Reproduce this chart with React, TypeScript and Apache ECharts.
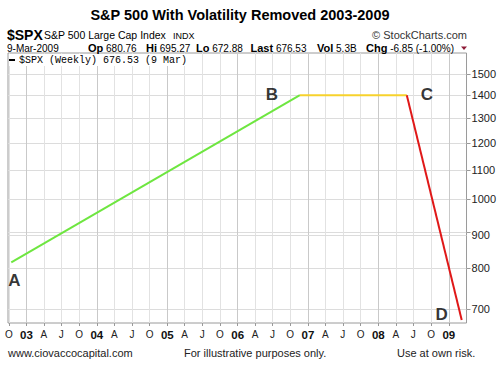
import React, { useEffect, useRef } from 'react';
import * as echarts from 'echarts';

const FONT = '"Liberation Sans", Arial, sans-serif';
const MONO = '"Liberation Mono", "Courier New", monospace';

// Trend segments (weekly S&P 500, volatility removed)
const greenDates = ['2002-10-14', '2006-11-20'];
const greenValues = [815, 1400];
const yellowDates = ['2006-11-20', '2008-05-28'];
const yellowValues = [1400, 1400];
const redDates = ['2008-05-28', '2009-03-09'];
const redValues = [1400, 676.53];

// Point annotations
const pointNames = ['A', 'B', 'C', 'D'];
const pointDates = ['2002-10-14', '2006-11-20', '2008-05-28', '2009-03-09'];
const pointValues = [815, 1400, 1400, 676.53];

// Axes
const yTickValues = [700, 800, 900, 1000, 1100, 1200, 1300, 1400, 1500];
// tick whose label is drawn by a mark line (the axis drops it)
const yTickViaMarkLine = [900];
const xTickDates = [
  '2002-10-01',
  '2003-01-01', '2003-04-01', '2003-07-01', '2003-10-01',
  '2004-01-01', '2004-04-01', '2004-07-01', '2004-10-01',
  '2005-01-01', '2005-04-01', '2005-07-01', '2005-10-01',
  '2006-01-01', '2006-04-01', '2006-07-01', '2006-10-01',
  '2007-01-01', '2007-04-01', '2007-07-01', '2007-10-01',
  '2008-01-01', '2008-04-01', '2008-07-01', '2008-10-01',
  '2009-01-01',
];
const xTickLabels = [
  'O',
  '03', 'A', 'J', 'O',
  '04', 'A', 'J', 'O',
  '05', 'A', 'J', 'O',
  '06', 'A', 'J', 'O',
  '07', 'A', 'J', 'O',
  '08', 'A', 'J', 'O',
  '09',
];

const X_MIN = '2002-09-27';
const X_MAX = '2009-04-03';
const Y_MIN = 670;
const Y_MAX = 1605;

const ts = (d: string) => new Date(d + 'T00:00:00Z').getTime();
const lg = (v: number) => Math.log10(v);

export default function App() {
  const ref = useRef<HTMLDivElement>(null);

  useEffect(() => {
    if (!ref.current) return;
    const chart = echarts.init(ref.current, undefined, { renderer: 'svg' });
    const xTicks = xTickDates.map(ts);
    const yTicks = yTickValues.map((v) => Number(lg(v).toFixed(6)));
    const yLabelTicks = yTickValues
      .filter((v) => !yTickViaMarkLine.includes(v))
      .map((v) => Number(lg(v).toFixed(6)));

    const seg = (dates: string[], vals: number[]) =>
      dates.map((d, i) => [ts(d), lg(vals[i])]);

    const labelOffsets: Record<string, number[]> = {
      A: [3, 18],
      B: [-28, -1],
      C: [20, -1],
      D: [-20, -6],
    };

    const text = (x: number, y: number, t: string, font: string, extra: any = {}) => ({
      type: 'text',
      x,
      y,
      z: 20,
      style: {
        text: t,
        font,
        fill: '#000',
        textVerticalAlign: 'middle',
        ...extra,
      },
    });

    const rich = {
      b: { font: `bold 11px ${FONT}`, fill: '#000' },
      n: { font: `10px ${FONT}`, fill: '#000' },
    };

    const nearest = (arr: number[], v: number) => {
      let best = 0;
      let bd = Infinity;
      arr.forEach((t, i) => {
        const d = Math.abs(t - v);
        if (d < bd) {
          bd = d;
          best = i;
        }
      });
      return best;
    };

    chart.setOption({
      animation: false,
      backgroundColor: '#fff',
      grid: {
        left: 8,
        right: 32,
        top: 53,
        bottom: 44,
        show: true,
        borderColor: '#9a9a9a',
        borderWidth: 1,
        backgroundColor: 'transparent',
        containLabel: false,
      },
      xAxis: {
        type: 'value',
        min: ts(X_MIN),
        max: ts(X_MAX),
        axisLine: { show: false },
        axisTick: {
          show: true,
          customValues: xTicks,
          length: 3,
          lineStyle: { color: '#999' },
        },
        axisLabel: {
          customValues: xTicks,
          interval: 0,
          margin: 6,
          hideOverlap: false,
          formatter: (v: number) => {
            const l = xTickLabels[nearest(xTicks, v)];
            return /\d/.test(l) ? `{y|${l}}` : `{m|${l}}`;
          },
          rich: {
            y: { fontFamily: FONT, fontWeight: 'bold', fontSize: 11.5, color: '#111' },
            m: { fontFamily: FONT, fontSize: 10, color: '#222' },
          },
        },
        splitLine: {
          show: true,
          lineStyle: { color: ['#e2e2e2', '#c9c9c9', '#e2e2e2', '#e2e2e2'], width: 1 },
        },
      },
      yAxis: {
        type: 'value',
        position: 'right',
        min: lg(Y_MIN),
        max: lg(Y_MAX),
        axisLine: { show: false },
        axisTick: {
          show: true,
          customValues: yTicks,
          length: 4,
          lineStyle: { color: '#999' },
        },
        axisLabel: {
          customValues: yLabelTicks,
          interval: 0,
          margin: 5,
          hideOverlap: false,
          fontFamily: FONT,
          fontSize: 11,
          color: '#222',
          formatter: (v: number) => String(yTickValues[nearest(yTicks, v)]),
        },
        splitLine: { show: true, lineStyle: { color: '#dcdcdc', width: 1 } },
      },
      series: [
        {
          type: 'line',
          data: seg(greenDates, greenValues),
          symbol: 'none',
          lineStyle: { color: '#6ee640', width: 2 },
          z: 3,
          markLine: {
            silent: true,
            symbol: 'none',
            z: 1,
            lineStyle: { color: '#dcdcdc', width: 1, type: 'solid' },
            label: {
              show: true,
              position: 'end',
              distance: 5,
              fontFamily: FONT,
              fontSize: 11,
              color: '#222',
              formatter: (p: any) => String(p.data.name),
            },
            data: yTickViaMarkLine.map((v) => ({ name: String(v), yAxis: lg(v) })),
          },
        },
        {
          type: 'line',
          data: seg(yellowDates, yellowValues),
          symbol: 'none',
          lineStyle: { color: '#f7d22c', width: 2 },
          z: 3,
        },
        {
          type: 'line',
          data: seg(redDates, redValues),
          symbol: 'none',
          lineStyle: { color: '#e01818', width: 2 },
          z: 3,
        },
        {
          type: 'scatter',
          symbolSize: 0,
          z: 5,
          silent: true,
          data: pointNames.map((n, i) => ({
            name: n,
            value: [ts(pointDates[i]), lg(pointValues[i])],
            label: { offset: labelOffsets[n] },
          })),
          label: {
            show: true,
            position: 'inside',
            formatter: '{b}',
            fontFamily: FONT,
            fontWeight: 'bold',
            fontSize: 17,
            color: '#000',
          },
        },
      ],
      graphic: [
        text(240, 15, 'S&P 500 With Volatility Removed 2003-2009', `bold 14.5px ${FONT}`, {
          textAlign: 'center',
        }),
        text(7, 34.5, '$SPX', `bold 14px ${FONT}`),
        text(44, 35, 'S&P 500 Large Cap Index', `10.5px ${FONT}`),
        text(173, 35.5, 'INDX', `9px ${FONT}`),
        text(467, 35, '© StockCharts.com', `11px ${FONT}`, { textAlign: 'right', fill: '#333' }),
        text(7, 48, '9-Mar-2009', `10px ${FONT}`),
        text(88, 48, '{b|Op} {n|680.76}', `10px ${FONT}`, { rich }),
        text(146, 48, '{b|Hi} {n|695.27}', `10px ${FONT}`, { rich }),
        text(196, 48, '{b|Lo} {n|672.88}', `10px ${FONT}`, { rich }),
        text(250.5, 48, '{b|Last} {n|676.53}', `10px ${FONT}`, { rich }),
        text(317, 48, '{b|Vol} {n|5.3B}', `10px ${FONT}`, { rich }),
        text(366, 48, '{b|Chg} {n|-6.85 (-1.00%)}', `10px ${FONT}`, { rich }),
        {
          type: 'polygon',
          z: 20,
          shape: { points: [[461, 46.5], [467, 46.5], [464, 50]] },
          style: { fill: '#8e1b37' },
        },
        {
          type: 'rect',
          z: 15,
          shape: { x: 9, y: 54, width: 186, height: 12 },
          style: { fill: '#fff' },
        },
        {
          type: 'rect',
          z: 20,
          shape: { x: 9, y: 59, width: 6, height: 2 },
          style: { fill: '#000' },
        },
        text(19, 60, '$SPX (Weekly) 676.53 (9 Mar)', `10px ${MONO}`),
        text(8, 353, 'www.ciovaccocapital.com', `11px ${FONT}`, { fill: '#222' }),
        text(184, 353, 'For illustrative purposes only.', `11px ${FONT}`, { fill: '#222' }),
        text(397, 353, 'Use at own risk.', `11px ${FONT}`, { fill: '#222' }),
      ],
    });

    return () => chart.dispose();
  }, []);

  return (
    <div
      ref={ref}
      style={{ position: 'fixed', left: 0, top: 0, width: 499, height: 367, background: '#fff' }}
    />
  );
}
